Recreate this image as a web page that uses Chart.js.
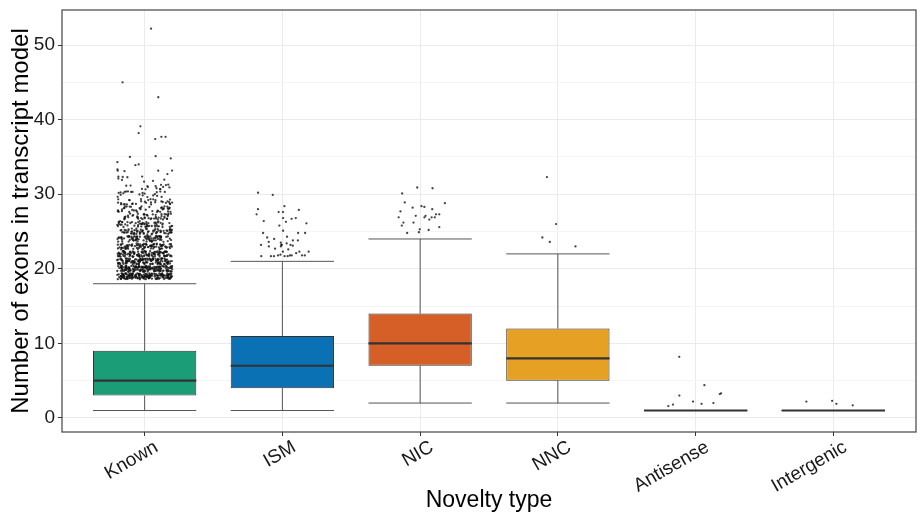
<!DOCTYPE html>
<html>
<head>
<meta charset="utf-8">
<script src="https://cdn.jsdelivr.net/npm/chart.js@4.4.1/dist/chart.umd.min.js"></script>
<style>
html, body { margin: 0; padding: 0; background: #fff; }
#wrap { width: 920px; height: 518px; }
</style>
</head>
<body>
<div id="wrap"><canvas id="exons"></canvas></div>
<script>
// box statistics per novelty type
const categories  = ['Known', 'ISM', 'NIC', 'NNC', 'Antisense', 'Intergenic'];
const whiskerLow  = [1, 1, 2, 2, 1, 1];
const q1          = [3, 4, 7, 5, 1, 1];
const median      = [5, 7, 10, 8, 1, 1];
const q3          = [9, 11, 14, 12, 1, 1];
const whiskerHigh = [18, 21, 24, 22, 1, 1];
const boxColors   = ['#1b9e77', '#0b71b5', '#d55f27', '#e6a125', '#7570b3', '#999999'];

// Known outliers: how many transcripts at each exon count (dense part), plus the sparse tail
const knownLevels = [19, 20, 21, 22, 23, 24, 25, 26, 27, 28, 29, 30, 31, 32, 33];
const knownCounts = [175, 155, 135, 112, 95, 80, 68, 58, 48, 40, 32, 22, 15, 9, 5];
const knownTail   = [32.7, 33.9, 34.0, 34.3, 34.8, 35.0, 35.1, 37.4, 37.7, 37.7, 38.2, 39.1, 43.0, 45.0, 52.2];

// other outliers
const ismOutliers = [29.9, 30.2, 28.4, 27.9, 28.0, 27.6, 27.6, 27.3, 26.8, 26.7, 26.8, 26.1, 26.4, 26.3,
  25.8, 25.1, 24.8, 24.8, 24.8, 24.3, 24.2, 24.0, 23.8, 23.4, 23.5, 23.8, 23.6, 23.2, 23.2, 23.2,
  23.2, 23.1, 23.0, 23.0, 22.7, 22.6, 22.3, 22.3, 22.3, 21.9, 21.8, 21.8, 21.7, 21.7, 21.8, 21.7,
  21.8, 21.8, 22.1, 21.7, 21.7];
const nicOutliers = [30.9, 30.1, 28.9, 28.8, 28.4, 28.0, 28.2, 28.3, 27.7, 27.3, 27.3, 27.1, 27.1,
  26.9, 26.9, 26.9, 26.9, 26.6, 26.2, 26.2, 25.8, 25.6, 25.3, 25.2, 24.8, 24.9, 30.8];
const nncOutliers = [32.3, 26.0, 24.2, 23.6, 23.0];
const antisenseOutliers = [8.2, 4.4, 3.2, 3.0, 3.3, 2.2, 1.8, 2.0, 1.6, 1.9];
const intergenicOutliers = [1.9, 2.2, 1.7, 2.3];

// deterministic jitter offsets (position only)
const hash = n => { const s = Math.sin(n * 12.9898 + 78.233) * 43758.5453; return s - Math.floor(s); };
const jx = i => (hash(i * 2 + 1) - 0.5) * 0.4;
const jy = i => (hash(i * 2 + 2) - 0.5) * 0.8;

const points = [];
let k = 0;
knownLevels.forEach((lv, j) => {
    for (let n = 0; n < knownCounts[j]; n++) {
        points.push({x: 1 + jx(k), y: lv + jy(k)});
        k++;
    }
});
knownTail.forEach(v => { points.push({x: 1 + jx(k), y: v}); k++; });
[ismOutliers, nicOutliers, nncOutliers, antisenseOutliers, intergenicOutliers].forEach((arr, c) => {
    arr.forEach((v, i) => points.push({x: c + 2 + jx(5000 + c * 100 + i), y: v}));
});

// whiskers, medians and panel border
const boxLines = {
    id: 'boxLines',
    beforeDatasetsDraw(chart) {
        const ctx = chart.ctx, xs = chart.scales.x, ys = chart.scales.y;
        const bars = chart.getDatasetMeta(1).data;
        ctx.save();
        ctx.strokeStyle = '#555';
        ctx.lineWidth = 1;
        categories.forEach((c, i) => {
            const x = xs.getPixelForValue(i + 1);
            const hw = bars[i].width / 2;
            ctx.beginPath();
            ctx.moveTo(x, ys.getPixelForValue(q3[i]));
            ctx.lineTo(x, ys.getPixelForValue(whiskerHigh[i]));
            ctx.moveTo(x, ys.getPixelForValue(whiskerLow[i]));
            ctx.lineTo(x, ys.getPixelForValue(q1[i]));
            ctx.moveTo(x - hw, ys.getPixelForValue(whiskerHigh[i]));
            ctx.lineTo(x + hw, ys.getPixelForValue(whiskerHigh[i]));
            ctx.moveTo(x - hw, ys.getPixelForValue(whiskerLow[i]));
            ctx.lineTo(x + hw, ys.getPixelForValue(whiskerLow[i]));
            ctx.stroke();
        });
        ctx.restore();
    },
    afterDatasetDraw(chart, args) {
        if (args.index !== 1) return;
        const ctx = chart.ctx, xs = chart.scales.x, ys = chart.scales.y;
        const bars = chart.getDatasetMeta(1).data;
        ctx.save();
        ctx.strokeStyle = '#333';
        ctx.lineWidth = 2.2;
        categories.forEach((c, i) => {
            const x = xs.getPixelForValue(i + 1);
            const hw = bars[i].width / 2;
            const y = ys.getPixelForValue(median[i]);
            ctx.beginPath();
            ctx.moveTo(x - hw, y);
            ctx.lineTo(x + hw, y);
            ctx.stroke();
        });
        ctx.restore();
    },
    afterDraw(chart) {
        const a = chart.chartArea, ctx = chart.ctx;
        ctx.save();
        ctx.strokeStyle = '#444';
        ctx.lineWidth = 1.2;
        ctx.strokeRect(a.left, a.top, a.right - a.left, a.bottom - a.top);
        ctx.restore();
    }
};

const fontFam = "'Liberation Sans', Arial, sans-serif";

new Chart(document.getElementById('exons').getContext('2d'), {
    type: 'bar',
    data: {
        datasets: [
            {
                type: 'scatter',
                data: points,
                pointRadius: 1.15,
                pointBorderWidth: 0,
                pointBackgroundColor: 'rgba(20,20,20,0.8)'
            },
            {
                type: 'bar',
                data: categories.map((c, i) => ({x: i + 1, y: [q1[i], q3[i]]})),
                backgroundColor: boxColors,
                borderColor: '#333',
                borderWidth: 1,
                borderSkipped: false,
                categoryPercentage: 1,
                barPercentage: 0.75
            }
        ]
    },
    options: {
        responsive: true,
        maintainAspectRatio: false,
        animation: false,
        layout: {padding: {top: 10, right: 2, left: 0, bottom: 0}},
        plugins: {legend: {display: false}, tooltip: {enabled: false}},
        scales: {
            x: {
                type: 'linear',
                offset: false,
                min: 0.4,
                max: 6.6,
                afterBuildTicks: s => { s.ticks = categories.map((c, i) => ({value: i + 1})); },
                afterFit: s => { s.height = 86; s.paddingLeft = 0; s.paddingRight = 0; },
                border: {display: false},
                grid: {offset: false, color: '#ebebeb', lineWidth: 1, tickColor: '#333', tickLength: 4},
                ticks: {
                    autoSkip: false,
                    minRotation: 30,
                    maxRotation: 30,
                    padding: 0,
                    labelOffset: 12,
                    color: '#1a1a1a',
                    font: {family: fontFam, size: 19},
                    callback: v => categories[Math.round(v) - 1]
                },
                title: {
                    display: true,
                    text: 'Novelty type',
                    color: '#000',
                    font: {family: fontFam, size: 23},
                    padding: {top: 0, bottom: 4}
                }
            },
            y: {
                min: -1.88,
                max: 54.7,
                afterBuildTicks: s => {
                    const t = [];
                    for (let v = 0; v <= 50; v += 5) t.push({value: v});
                    s.ticks = t;
                },
                afterFit: s => { s.width = 62; s.paddingTop = 0; s.paddingBottom = 0; },
                border: {display: false},
                grid: {
                    color: c => c.tick && c.tick.value % 10 === 0 ? '#ebebeb' : '#f5f5f5',
                    lineWidth: 1,
                    tickColor: c => c.tick && c.tick.value % 10 === 0 ? '#333' : 'rgba(0,0,0,0)',
                    tickLength: 4
                },
                ticks: {
                    padding: 3,
                    color: '#1a1a1a',
                    font: {family: fontFam, size: 19},
                    callback: v => v % 10 === 0 ? v : ''
                },
                title: {
                    display: true,
                    text: 'Number of exons in transcript model',
                    color: '#000',
                    font: {family: fontFam, size: 24},
                    padding: {top: 7, bottom: 0}
                }
            }
        }
    },
    plugins: [boxLines]
});
</script>
</body>
</html>
